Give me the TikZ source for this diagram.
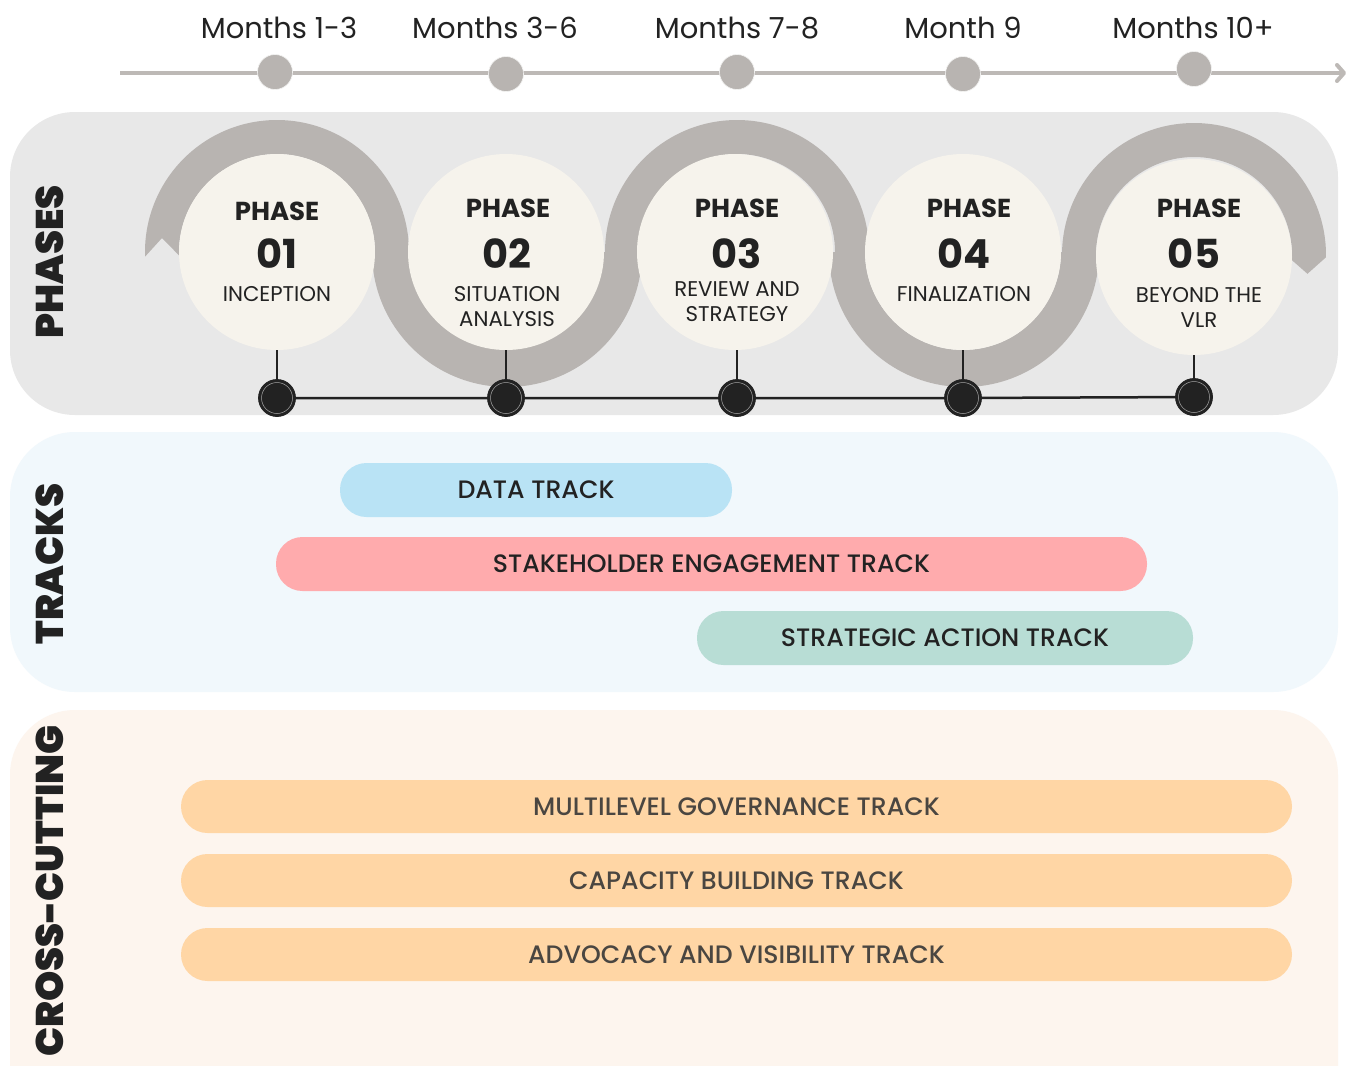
\documentclass[tikz,border=0pt]{standalone}
\usepackage{fontspec}
\setmainfont{Poppins}
\newfontfamily\medfont{Poppins Medium}
\newfontfamily\heavyfont{Poppins Black}
\usetikzlibrary{arrows.meta,calc}
\definecolor{panelA}{HTML}{E8E8E8}
\definecolor{panelB}{HTML}{F1F8FC}
\definecolor{panelC}{HTML}{FDF5EE}
\definecolor{band}{HTML}{B8B4B1}
\definecolor{circ}{HTML}{F6F3EC}
\definecolor{ink}{HTML}{222222}
\definecolor{tl}{HTML}{BDB9B6}
\definecolor{datac}{HTML}{B9E3F5}
\definecolor{stakec}{HTML}{FFABAD}
\definecolor{stratc}{HTML}{B8DDD5}
\definecolor{crossc}{HTML}{FFD6A5}
\definecolor{crossink}{HTML}{4A4641}
\tikzset{
  panel/.style={fill=#1, draw=none, rounded corners=65pt},
  phasecirc/.style={circle, fill=circ, draw=none, minimum size=196pt, inner sep=0pt},
  tldot/.style={circle, fill=band, draw=white!85!band, line width=0.6pt, minimum size=35pt, inner sep=0pt},
  blackdot/.style={circle, fill=ink, draw=ink, line width=0.8pt, minimum size=37pt, inner sep=0pt, path picture={\draw[gray!70, line width=0.5pt] (path picture bounding box.center) circle[radius=15.5pt];}},
  monthlbl/.style={font=\fontsize{29}{33}\selectfont, text=ink, anchor=base},
  phaselbl/.style={font=\fontsize{26}{30}\selectfont\bfseries, text=ink, anchor=base},
  numlbl/.style={font=\fontsize{40}{44}\selectfont\bfseries, text=ink, anchor=base},
  namelbl/.style={font=\fontsize{21.3}{24}\selectfont, text=ink, anchor=base},
  seclbl/.style={font=\fontsize{38.5}{44}\selectfont\heavyfont, text=ink, rotate=90},
  bar/.style={rectangle, rounded corners=26.5pt, fill=#1, draw=none, minimum height=54pt, inner sep=0pt, font=\fontsize{25.2}{28}\selectfont\medfont, text=ink},
  crossbar/.style={bar=crossc, minimum height=53pt, minimum width=1111pt, text=crossink},
  link/.style={draw=ink, line width=2pt},
}
\begin{document}
\begin{tikzpicture}[x=1pt,y=-1pt]
\useasboundingbox (0,0) rectangle (1353,1066);
\clip (0,0) rectangle (1353,1066);
\fill[white] (0,0) rectangle (1353,1066);
% panels
\path[panel=panelA] (10,112) rectangle (1338,415);
\path[panel=panelB] (10,432) rectangle (1338,692);
\path[panel=panelC] (10,710) rectangle (1338,1140);
% timeline
\coordinate (tlstart) at (120,73);
\coordinate (tlend) at (1346,73);
\draw[tl, line width=4pt, -{Straight Barb[round,length=7pt,width=16pt,line width=4pt]}] (tlstart) -- (tlend);
\node[tldot] (t1) at (275,72) {};
\node[tldot] (t2) at (506,74) {};
\node[tldot] (t3) at (737,72) {};
\node[tldot] (t4) at (963,74) {};
\node[tldot] (t5) at (1194,69) {};
\node[monthlbl] (m1) at (279,38) {Months 1-3};
\node[monthlbl] (m2) at (495,38) {Months 3-6};
\node[monthlbl] (m3) at (737,38) {Months 7-8};
\node[monthlbl] (m4) at (963,38) {Month 9};
\node[monthlbl] (m5) at (1193,38) {Months 10+};
% wave band
\fill[band] ($(277,252)+(178:132)$) arc[start angle=178,end angle=360,radius=132]
  -- (375,252) arc[start angle=0,end angle=-182,radius=98] -- (162,238) -- cycle;
\fill[band] (372,252) arc[start angle=180,end angle=0,radius=135]
  -- (408,252) arc[start angle=180,end angle=0,radius=98] -- cycle;
\fill[band] (605,252) arc[start angle=180,end angle=360,radius=132]
  -- (835,252) arc[start angle=0,end angle=-180,radius=98] -- cycle;
\fill[band] (829,252) arc[start angle=180,end angle=0,radius=135]
  -- (1061,252) arc[start angle=0,end angle=180,radius=98] -- cycle;
\fill[band] ($(1194,255)+(180:132)$) arc[start angle=180,end angle=361,radius=132]
  -- ($(1194,255)+(9.4:115)$) -- ($(1194,255)+(3:98)$)
  arc[start angle=3,end angle=-180,radius=98] -- cycle;
% phase circles
\node[phasecirc] (p1) at (277,252) {};
\node[phasecirc] (p2) at (506,252) {};
\node[phasecirc] (p3) at (735,252) {};
\node[phasecirc] (p4) at (963,252) {};
\node[phasecirc] (p5) at (1194,257) {};
% bottom dots and links
\node[blackdot] (d1) at (277,398) {};
\node[blackdot] (d2) at (506,398) {};
\node[blackdot] (d3) at (737,398) {};
\node[blackdot] (d4) at (963,398) {};
\node[blackdot] (d5) at (1194,397) {};
\draw[link, line width=2.5pt] (d1) -- (d2) -- (d3) -- (d4) -- (d5);
\draw[link] (p1.south) -- (d1.north);
\draw[link] (p2.south) -- (d2.north);
\draw[link] (737,350) -- (d3.north);
\draw[link] (p4.south) -- (d4.north);
\draw[link] (p5.south) -- (d5.north);
% phase texts
\node[phaselbl] (h1) at (277,220) {PHASE};
\node[numlbl] (n1) at (277,268) {01};
\node[namelbl] (a1) at (277,301) {INCEPTION};
\node[phaselbl] (h2) at (508,217) {PHASE};
\node[numlbl] (n2) at (507,268) {02};
\node[namelbl] (a2) at (507,301) {SITUATION};
\node[namelbl] (b2) at (507,326) {ANALYSIS};
\node[phaselbl] (h3) at (737,217) {PHASE};
\node[numlbl] (n3) at (737,268) {03};
\node[namelbl] (a3) at (737,296) {REVIEW AND};
\node[namelbl] (b3) at (737,321) {STRATEGY};
\node[phaselbl] (h4) at (969,217) {PHASE};
\node[numlbl] (n4) at (964,268) {04};
\node[namelbl] (a4) at (964,301) {FINALIZATION};
\node[phaselbl] (h5) at (1199,217) {PHASE};
\node[numlbl] (n5) at (1194,268) {05};
\node[namelbl] (a5) at (1199,302) {BEYOND THE};
\node[namelbl] (b5) at (1199,327) {VLR};
% section labels
\node[seclbl] (s1) at (50,262) {PHASES};
\node[seclbl] (s2) at (50,564) {TRACKS};
\node[seclbl] (s3) at (50,891) {CROSS-CUTTING};
% tracks
\node[bar=datac, minimum width=392pt] (tr1) at (536,490) {DATA TRACK};
\node[bar=stakec, minimum width=871pt] (tr2) at (711.5,564) {STAKEHOLDER ENGAGEMENT TRACK};
\node[bar=stratc, minimum width=496pt] (tr3) at (945,638) {STRATEGIC ACTION TRACK};
% cross-cutting
\node[crossbar] (c1) at (736.5,806.5) {MULTILEVEL GOVERNANCE TRACK};
\node[crossbar] (c2) at (736.5,880.5) {CAPACITY BUILDING TRACK};
\node[crossbar] (c3) at (736.5,954.5) {ADVOCACY AND VISIBILITY TRACK};
\end{tikzpicture}
\end{document}
